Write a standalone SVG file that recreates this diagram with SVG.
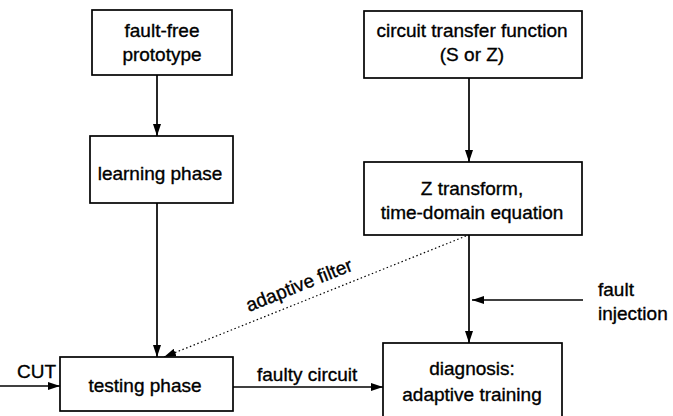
<svg xmlns="http://www.w3.org/2000/svg" width="673" height="416" viewBox="0 0 673 416">
<defs>
<marker id="ah" viewBox="0 0 12 8" refX="12" refY="4" markerWidth="12" markerHeight="8" markerUnits="userSpaceOnUse" orient="auto">
<path d="M0,0 L12,4 L0,8 Z" fill="#000"/>
</marker>
</defs>
<style>
.box{fill:#fff;stroke:#000;stroke-width:1.7}
.t{font-family:"Liberation Sans",Arial,sans-serif;font-size:19px;fill:#000;stroke:#000;stroke-width:0.35;text-anchor:middle}
.l{font-family:"Liberation Sans",Arial,sans-serif;font-size:19px;fill:#000;stroke:#000;stroke-width:0.35}
.c{stroke:#000;stroke-width:1.7;fill:none}
.d{stroke:#000;stroke-width:1.2;fill:none;stroke-dasharray:1.5 2.5}
</style>
<rect width="673" height="416" fill="#fff"/>
<g id="connectors">
<line class="c" x1="157" y1="75" x2="157" y2="136" marker-end="url(#ah)"/>
<line class="c" x1="469" y1="78" x2="469" y2="162" marker-end="url(#ah)"/>
<line class="c" x1="157" y1="203" x2="157" y2="357" marker-end="url(#ah)"/>
<line class="c" x1="469" y1="235" x2="469" y2="343" marker-end="url(#ah)"/>
<line class="c" x1="583" y1="300" x2="472" y2="300" marker-end="url(#ah)"/>
<line class="c" x1="0" y1="386" x2="60" y2="386" marker-end="url(#ah)"/>
<line class="c" x1="233" y1="387" x2="383" y2="387" marker-end="url(#ah)"/>
<line class="d" x1="466" y1="236" x2="164" y2="357" marker-end="url(#ah)"/>
<text class="l" transform="translate(249,312) rotate(-21.8)">adaptive filter</text>
<text class="l" x="257" y="381">faulty circuit</text>
<text class="l" x="17" y="378">CUT</text>
<text class="l" x="598" y="296">fault</text>
<text class="l" x="598" y="320">injection</text>
</g>
<g id="fault-free">
<rect class="box" x="92" y="10" width="140" height="65"/>
<text class="t" x="162" y="37">fault-free</text>
<text class="t" x="162" y="61">prototype</text>
</g>
<g id="circuit">
<rect class="box" x="364" y="11" width="218" height="67"/>
<text class="t" x="472" y="37">circuit transfer  function</text>
<text class="t" x="472" y="61">(S or Z)</text>
</g>
<g id="learning">
<rect class="box" x="90" y="136" width="143" height="67"/>
<text class="t" x="160" y="180">learning phase</text>
</g>
<g id="ztransform">
<rect class="box" x="364" y="162" width="218" height="73"/>
<text class="t" x="472" y="195">Z transform,</text>
<text class="t" x="472" y="219">time-domain  equation</text>
</g>
<g id="testing">
<rect class="box" x="60" y="357" width="173" height="54"/>
<text class="t" x="145" y="392">testing  phase</text>
</g>
<g id="diagnosis">
<rect class="box" x="383" y="343" width="179" height="80"/>
<text class="t" x="472" y="375">diagnosis:</text>
<text class="t" x="472" y="401">adaptive training</text>
</g>
</svg>
